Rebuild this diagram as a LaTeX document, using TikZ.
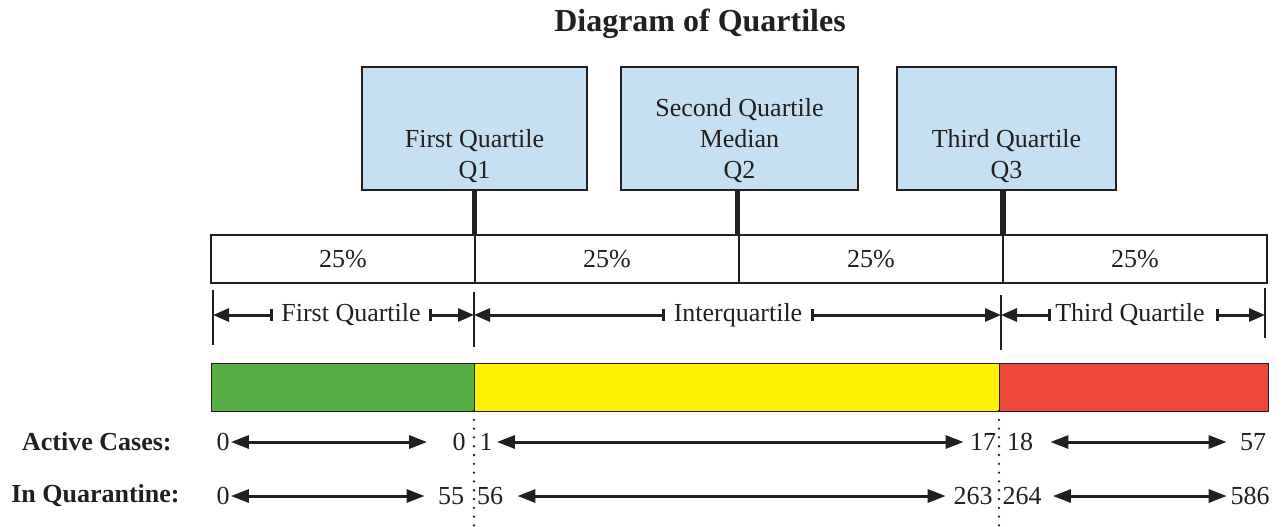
\documentclass[tikz,border=0pt]{standalone}
\usepackage{fontspec}
\setmainfont{Liberation Serif}
\usepackage{tikz}
\usetikzlibrary{arrows.meta, positioning, calc}
\definecolor{boxblue}{RGB}{197,224,242}
\definecolor{barsgreen}{RGB}{86,174,69}
\definecolor{barsyellow}{RGB}{255,242,0}
\definecolor{barsred}{RGB}{238,72,59}
\definecolor{ink}{RGB}{35,31,32}
\tikzset{
    qbox/.style={rectangle, draw=ink, fill=boxblue, line width=1.3pt, minimum width=112.5pt, minimum height=61.5pt, inner sep=0pt},
    qtext/.style={align=center, inner sep=0pt, text depth=0pt, font=\fontsize{13}{15.5}\selectfont},
    stem/.style={draw=ink, line width=2.6pt},
    cell/.style={rectangle, draw=ink, line width=1.2pt, minimum width=132pt, minimum height=24pt, inner sep=0pt, outer sep=0pt, font=\fontsize{13}{15.5}\selectfont},
    colbar/.style={rectangle, draw=ink, line width=0.5pt, minimum height=24pt, inner sep=0pt, outer sep=0pt},
    tick/.style={draw=ink, line width=1.3pt},
    dimlabel/.style={inner sep=4pt, font=\fontsize{13}{15.5}\selectfont},
    dimarrow/.style={draw=ink, line width=1.5pt, {Bar[width=6pt]}-{Triangle[length=8pt, width=6.5pt]}},
    valarrow/.style={draw=ink, line width=1.5pt, {Triangle[length=9pt, width=6.5pt]}-{Triangle[length=9pt, width=6.5pt]}},
    value/.style={inner sep=0.5pt, font=\fontsize{13}{15.5}\selectfont},
    rowlabel/.style={anchor=east, inner sep=0pt, font=\fontsize{13}{15.5}\selectfont\bfseries},
    dotline/.style={draw=ink, line width=1.3pt, line cap=round, dash pattern=on 0pt off 4.4pt},
}
\begin{document}
\begin{tikzpicture}[x=0.5pt, y=-0.5pt, text=ink]
        \useasboundingbox (0,0) rectangle (1282,526);
        \coordinate (bot) at (0,526);

        % Title
        \node[font=\fontsize{16}{19}\selectfont\bfseries] (title) at (700,24) {Diagram of Quartiles};

        % Quartile boxes
        \node[qbox] (q1) at (474.5,128.5) {};
        \node[qbox, minimum width=118.5pt] (q2) at (739.5,128.5) {};
        \node[qbox, minimum width=109.5pt] (q3) at (1006.5,128.5) {};
        \node[qtext, above=6pt of q1.south] (q1txt) {First Quartile\\Q1};
        \node[qtext, above=6pt of q2.south] (q2txt) {Second Quartile\\Median\\Q2};
        \node[qtext, above=6pt of q3.south] (q3txt) {Third Quartile\\Q3};

        % Percentage bar
        \node[cell] (pc1) at (343,259) {25\%};
        \node[cell, right=0pt of pc1] (pc2) {25\%};
        \node[cell, right=0pt of pc2] (pc3) {25\%};
        \node[cell, right=0pt of pc3] (pc4) {25\%};

        \draw[stem] (q1.south) -- (q1.south |- pc1.north);
        \draw[stem] ($(q2.south)+(-2,0)$) -- ($(q2.south |- pc1.north)+(-2,0)$);
        \draw[stem] ($(q3.south)+(-3.5,0)$) -- ($(q3.south |- pc1.north)+(-3.5,0)$);

        % Ranges
        \coordinate (tka) at (213,290);
        \coordinate (tkb) at (474,292);
        \coordinate (tkc) at (1001,295);
        \coordinate (tkd) at (1265,288);
        \draw[tick] (tka) -- ++(0,55);
        \draw[tick] (tkb) -- ++(0,55);
        \draw[tick] (tkc) -- ++(0,55);
        \draw[tick] (tkd) -- ++(0,50);

        \node[dimlabel] (fq) at (351,315) {First Quartile};
        \node[dimlabel] (iq) at (738,315) {Interquartile};
        \node[dimlabel] (tq) at (1130,315) {Third Quartile};
        \draw[dimarrow] (fq.west) -- (fq.west -| tka);
        \draw[dimarrow] (fq.east) -- (fq.east -| tkb);
        \draw[dimarrow] (iq.west) -- (iq.west -| tkb);
        \draw[dimarrow] (iq.east) -- (iq.east -| tkc);
        \draw[dimarrow, shorten <=-2pt] (tq.west) -- (tq.west -| tkc);
        \draw[dimarrow, shorten <=1.5pt] (tq.east) -- (tq.east -| tkd);

        % Coloured bar
        \node[colbar, fill=barsgreen, minimum width=131.5pt] (gbar) at (342.5,387) {};
        \node[colbar, fill=barsyellow, minimum width=262.5pt, right=0pt of gbar] (ybar) {};
        \node[colbar, fill=barsred, minimum width=134.5pt, right=0pt of ybar] (rbar) {};

        \draw[dotline] (ybar.south west) -- (ybar.south west |- bot);
        \draw[dotline] (ybar.south east) -- (ybar.south east |- bot);

        % Active cases
        \node[rowlabel] (actlbl) at (172,442) {Active Cases:};
        \node[value] (av1) at (223,442) {0};
        \node[value] (av2) at (459,442) {0};
        \node[value] (av3) at (486,442) {1};
        \node[value] (av4) at (983,442) {17};
        \node[value] (av5) at (1020,442) {18};
        \node[value] (av6) at (1253,442) {57};
        \draw[valarrow, shorten >=12pt] (av1) -- (av2);
        \draw[valarrow, shorten <=1.5pt, shorten >=2.5pt] (av3) -- (av4);
        \draw[valarrow, shorten <=8pt, shorten >=6pt] (av5) -- (av6);

        % In quarantine
        \node[rowlabel] (quarlbl) at (180,496) {In Quarantine:};
        \node[value] (qv1) at (223,496) {0};
        \node[value] (qv2) at (451,496) {55};
        \node[value] (qv3) at (490,496) {56};
        \node[value] (qv4) at (973,496) {263};
        \node[value] (qv5) at (1022,496) {264};
        \node[value] (qv6) at (1250,496) {586};
        \draw[valarrow, shorten >=6pt] (qv1) -- (qv2);
        \draw[valarrow, shorten <=6.5pt, shorten >=3.2pt] (qv3) -- (qv4);
        \draw[valarrow, shorten <=5pt, shorten >=1.2pt] (qv5) -- (qv6);
    \end{tikzpicture}
\end{document}
